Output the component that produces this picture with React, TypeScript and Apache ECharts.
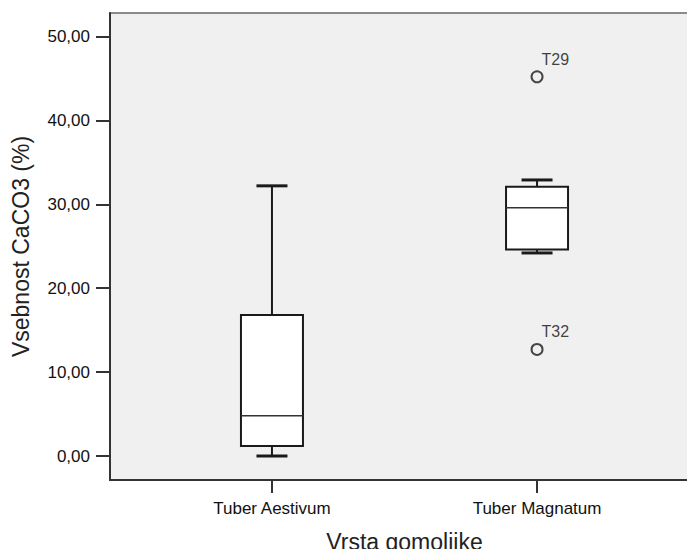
import React, { useEffect, useRef } from "react";
import * as echarts from "echarts";

const categories = ["Tuber Aestivum", "Tuber Magnatum"];
const minVals = [0.0, 24.2];
const q1Vals = [1.2, 24.6];
const medianVals = [4.8, 29.6];
const q3Vals = [16.8, 32.1];
const maxVals = [32.2, 32.9];
const outlierCategory = [2, 2];
const outlierValues = [45.2, 12.7];
const outlierLabels = ["T29", "T32"];
const yTicks = [0, 10, 20, 30, 40, 50];

const FONT = "Arial, 'Liberation Sans', sans-serif";

export default function App() {
  const ref = useRef<HTMLDivElement>(null);
  useEffect(() => {
    if (!ref.current) return;
    const chart = echarts.init(ref.current, null, { renderer: "svg" });
    const boxData = categories.map((_, i) => [
      i + 1,
      minVals[i],
      q1Vals[i],
      medianVals[i],
      q3Vals[i],
      maxVals[i],
    ]);
    const outData = outlierValues.map((v, i) => [outlierCategory[i], v, outlierLabels[i]]);
    const BOX_W = 62;
    const CAP_W = 31;
    const dark = "#1a1a1a";
    chart.setOption({
      animation: false,
      backgroundColor: "#ffffff",
      grid: {
        left: 110,
        top: 13,
        right: -4,
        bottom: 77,
        outerBoundsMode: "none",
        containLabel: false,
        show: true,
        backgroundColor: "#f0f0f0",
        borderColor: "#8a8a8a",
        borderWidth: 2,
      },
      xAxis: {
        type: "value",
        min: 0.389,
        max: 2.611,
        name: "Vrsta gomoljike",
        nameLocation: "middle",
        nameGap: 50,
        nameTextStyle: { fontSize: 23, color: "#222", fontFamily: FONT },
        splitLine: { show: false },
        axisLine: { show: true, onZero: false, lineStyle: { color: "#333", width: 2 } },
        axisTick: {
          show: true,
          customValues: [1, 2],
          length: 13,
          lineStyle: { color: "#333", width: 2 },
        },
        axisLabel: {
          customValues: [1, 2],
          formatter: (v: number) => categories[Math.round(v) - 1] ?? "",
          fontSize: 17,
          color: "#111",
          fontFamily: FONT,
          margin: 20,
        },
      },
      yAxis: {
        type: "value",
        min: -2.86,
        max: 52.8,
        name: "Vsebnost CaCO3 (%)",
        nameLocation: "middle",
        nameGap: 78,
        nameTextStyle: { fontSize: 23, color: "#222", fontFamily: FONT },
        splitLine: { show: false },
        axisLine: { show: true, onZero: false, lineStyle: { color: "#333", width: 2 } },
        axisTick: {
          show: true,
          customValues: yTicks,
          length: 14,
          lineStyle: { color: "#333", width: 2 },
        },
        axisLabel: {
          customValues: yTicks,
          formatter: (v: number) => v.toFixed(2).replace(".", ","),
          fontSize: 17,
          color: "#111",
          fontFamily: FONT,
          margin: 20,
        },
      },
      series: [
        {
          type: "custom",
          data: boxData,
          renderItem: (params: any, api: any) => {
            const x = api.value(0);
            const pMin = api.coord([x, api.value(1)]);
            const pQ1 = api.coord([x, api.value(2)]);
            const pMed = api.coord([x, api.value(3)]);
            const pQ3 = api.coord([x, api.value(4)]);
            const pMax = api.coord([x, api.value(5)]);
            const cx = pMin[0];
            return {
              type: "group",
              children: [
                {
                  type: "line",
                  shape: { x1: cx, y1: pQ3[1], x2: cx, y2: pMax[1] },
                  style: { stroke: dark, lineWidth: 2 },
                },
                {
                  type: "line",
                  shape: { x1: cx, y1: pQ1[1], x2: cx, y2: pMin[1] },
                  style: { stroke: dark, lineWidth: 2 },
                },
                {
                  type: "line",
                  shape: { x1: cx - CAP_W / 2, y1: pMax[1], x2: cx + CAP_W / 2, y2: pMax[1] },
                  style: { stroke: dark, lineWidth: 3 },
                },
                {
                  type: "line",
                  shape: { x1: cx - CAP_W / 2, y1: pMin[1], x2: cx + CAP_W / 2, y2: pMin[1] },
                  style: { stroke: dark, lineWidth: 3 },
                },
                {
                  type: "rect",
                  shape: {
                    x: cx - BOX_W / 2,
                    y: pQ3[1],
                    width: BOX_W,
                    height: pQ1[1] - pQ3[1],
                  },
                  style: { fill: "#ffffff", stroke: dark, lineWidth: 2 },
                },
                {
                  type: "line",
                  shape: { x1: cx - BOX_W / 2, y1: pMed[1], x2: cx + BOX_W / 2, y2: pMed[1] },
                  style: { stroke: "#333", lineWidth: 1.5 },
                },
              ],
            };
          },
        },
        {
          type: "scatter",
          data: outData,
          symbol: "circle",
          symbolSize: 11,
          itemStyle: { color: "#f0f0f0", borderColor: dark, borderWidth: 2 },
          label: {
            show: true,
            formatter: (p: any) => p.value[2],
            position: [11, -11],
            align: "left",
            verticalAlign: "middle",
            fontSize: 16,
            color: "#111",
            fontFamily: FONT,
          },
        },
      ],
    });
    return () => chart.dispose();
  }, []);
  return <div ref={ref} style={{ width: 695, height: 557, margin: -8 }} />;
}
